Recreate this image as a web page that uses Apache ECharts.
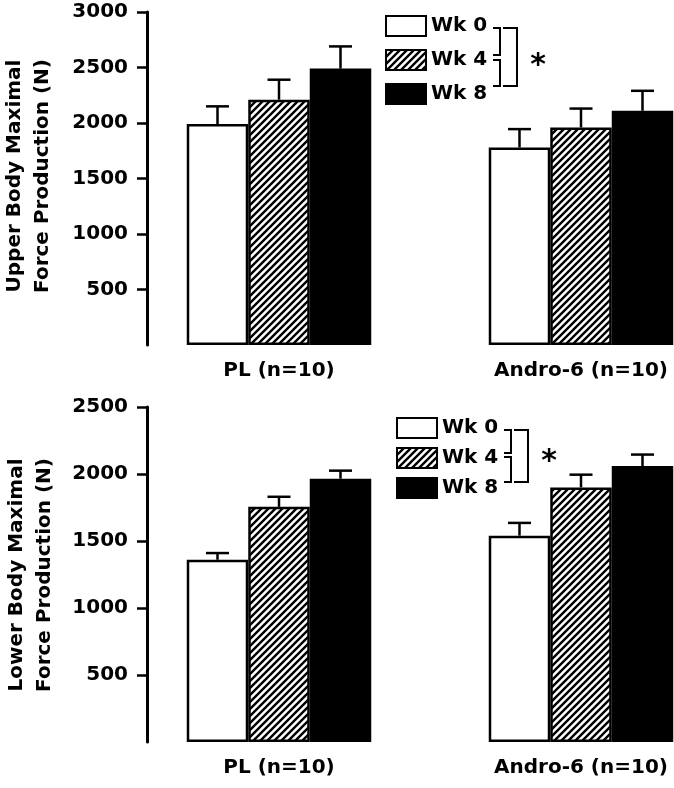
<!DOCTYPE html>
<html>
<head>
<meta charset="utf-8">
<script src="https://cdn.jsdelivr.net/npm/echarts@6/dist/echarts.min.js"></script>
<style>
html,body{margin:0;padding:0;background:#fff;}
#chart{width:674px;height:788px;}
</style>
</head>
<body>
<div id="chart"></div>
<script>
// ---- data ----
const categories = ['PL (n=10)', 'Andro-6 (n=10)'];
const weeks = ['Wk 0', 'Wk 4', 'Wk 8'];

// Upper body maximal force production (N): means and SD per week, [PL, Andro-6]
const upperWk0 = [1990, 1780];
const upperWk4 = [2210, 1960];
const upperWk8 = [2490, 2110];
const upperSdWk0 = [160, 165];
const upperSdWk4 = [180, 170];
const upperSdWk8 = [200, 180];

// Lower body maximal force production (N)
const lowerWk0 = [1360, 1540];
const lowerWk4 = [1755, 1900];
const lowerWk8 = [1965, 2060];
const lowerSdWk0 = [50, 95];
const lowerSdWk4 = [75, 95];
const lowerSdWk8 = [60, 85];

const upperTicks = { min: 0, max: 3000, interval: 500 };
const lowerTicks = { min: 0, max: 2500, interval: 500 };

const upperTitle = ['Upper Body Maximal', 'Force Production (N)'];
const lowerTitle = ['Lower Body Maximal', 'Force Production (N)'];

// ---- styling ----
const FONT = 'DejaVu Sans';
const BW = 61.5;

function hatchPattern() {
  const c = document.createElement('canvas');
  c.width = 7; c.height = 7;
  const g = c.getContext('2d');
  g.fillStyle = '#fff'; g.fillRect(0, 0, 7, 7);
  g.strokeStyle = '#000'; g.lineWidth = 2.4;
  g.beginPath();
  g.moveTo(-1, 8); g.lineTo(8, -1);
  g.moveTo(-1, 1); g.lineTo(1, -1);
  g.moveTo(6, 8); g.lineTo(8, 6);
  g.stroke();
  return c;
}
const hatch = { image: hatchPattern(), repeat: 'repeat' };
const fills = ['#fff', hatch, '#000'];

const upperMeans = [upperWk0, upperWk4, upperWk8];
const upperSds = [upperSdWk0, upperSdWk4, upperSdWk8];
const lowerMeans = [lowerWk0, lowerWk4, lowerWk8];
const lowerSds = [lowerSdWk0, lowerSdWk4, lowerSdWk8];

function barSeries(gi, means) {
  return weeks.map((w, i) => ({
    name: w, type: 'bar', xAxisIndex: gi, yAxisIndex: gi,
    data: means[i], barWidth: BW, barGap: '0%',
    itemStyle: { color: fills[i], borderColor: '#000', borderWidth: 2.5 },
    silent: true
  }));
}
function errSeries(gi, means, sds) {
  const data = [];
  weeks.forEach((w, wi) => categories.forEach((c, ci) => data.push([ci, wi, means[wi][ci], sds[wi][ci]])));
  return {
    type: 'custom', xAxisIndex: gi, yAxisIndex: gi, silent: true, z: 5,
    encode: { x: 0, y: 2 },
    data: data,
    renderItem: function (params, api) {
      const ci = api.value(0), wi = api.value(1), m = api.value(2), s = api.value(3);
      const p1 = api.coord([ci, m]);
      const p2 = api.coord([ci, m + s]);
      const x = p1[0] + (wi - 1) * BW;
      const st = { stroke: '#000', lineWidth: 2.5 };
      return { type: 'group', children: [
        { type: 'line', shape: { x1: x, y1: p1[1], x2: x, y2: p2[1] }, style: st },
        { type: 'line', shape: { x1: x - 11.5, y1: p2[1], x2: x + 11.5, y2: p2[1] }, style: st }
      ]};
    }
  };
}
function yAxis(gi, t) {
  return {
    gridIndex: gi, type: 'value', min: t.min, max: t.max, interval: t.interval, offset: -19,
    axisLine: { show: true, lineStyle: { color: '#000', width: 3 } },
    axisTick: { show: true, length: 10, lineStyle: { color: '#000', width: 2.5 } },
    axisLabel: { showMinLabel: false, margin: 19, fontSize: 20, fontWeight: 'bold', fontFamily: FONT, color: '#000',
      formatter: v => String(v) },
    splitLine: { show: false }
  };
}
function xAxis(gi) {
  return {
    gridIndex: gi, type: 'category', data: categories,
    axisLine: { show: false }, axisTick: { show: false },
    axisLabel: { margin: 16, fontSize: 20, fontWeight: 'bold', fontFamily: FONT, color: '#000' }
  };
}
function legend(left, top, gap) {
  return {
    data: weeks, orient: 'vertical', left: left, top: top, padding: 0,
    itemWidth: 40, itemHeight: 20, itemGap: gap, icon: 'rect', selectedMode: false,
    textStyle: { fontSize: 20, fontWeight: 'bold', fontFamily: FONT, color: '#000' }
  };
}
function title(lines, cx1, cx2, cy) {
  return lines.map((s, i) => ({
    type: 'text', x: i === 0 ? cx1 : cx2, y: cy, rotation: Math.PI / 2,
    style: { text: s, font: 'bold 20px "' + FONT + '"', fill: '#000', textAlign: 'center', textVerticalAlign: 'middle' }
  }));
}
function bracket(xs, xb, xbig, yTop, yMid1, yMid2, yBot, star) {
  const st = { stroke: '#000', lineWidth: 2, fill: null };
  return [
    { type: 'polyline', shape: { points: [[xs, yTop], [xb, yTop], [xb, yMid1], [xs, yMid1]] }, style: st },
    { type: 'polyline', shape: { points: [[xs, yMid2], [xb, yMid2], [xb, yBot], [xs, yBot]] }, style: st },
    { type: 'polyline', shape: { points: [[xb + 3, yTop], [xbig, yTop], [xbig, yBot], [xb + 3, yBot]] }, style: st },
    { type: 'text', x: star[0], y: star[1], style: { text: '*', font: 'bold 30px "' + FONT + '"', fill: '#000', textAlign: 'center', textVerticalAlign: 'middle' } }
  ];
}

const chart = echarts.init(document.getElementById('chart'), null, { renderer: 'canvas' });
chart.setOption({
  animation: false,
  backgroundColor: '#fff',
  grid: [
    { left: 128, width: 604, top: 12, height: 333, outerBoundsMode: 'none', containLabel: false },
    { left: 128, width: 604, top: 407, height: 335, outerBoundsMode: 'none', containLabel: false }
  ],
  xAxis: [xAxis(0), xAxis(1)],
  yAxis: [yAxis(0, upperTicks), yAxis(1, lowerTicks)],
  legend: [legend(385, 15, 12), legend(396, 417, 8)],
  series: [].concat(
    barSeries(0, upperMeans), [errSeries(0, upperMeans, upperSds)],
    barSeries(1, lowerMeans), [errSeries(1, lowerMeans, lowerSds)]
  ),
  graphic: [].concat(
    title(upperTitle, 15, 43, 176),
    title(lowerTitle, 17, 45, 575),
    bracket(493, 500, 517, 28, 55, 60, 86, [538, 66]),
    bracket(504, 511, 528, 430, 453, 457, 482, [549, 462])
  )
});
</script>
</body>
</html>
